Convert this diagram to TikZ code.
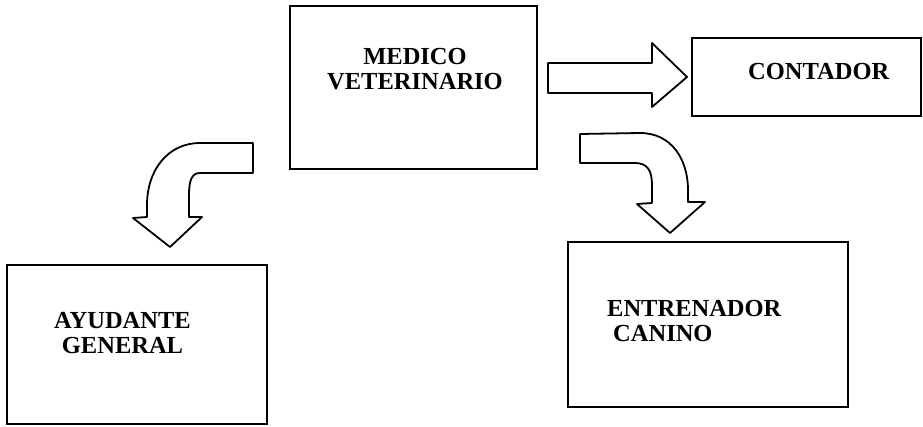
\documentclass[tikz,border=0pt]{standalone}
\usepackage{fontspec}
\setmainfont{Liberation Serif}
\usepackage{tikz}
\tikzset{
    node distance=2cm, % not used much here, boxes are set at coordinates
    }

\begin{document}
\begin{tikzpicture}[x=1pt,y=-1pt,
cajabox/.style={rectangle, draw=black, line width=1.8pt, inner sep=0pt},
rotulo/.style={inner sep=0pt, font=\fontsize{24.5pt}{25pt}\selectfont\bfseries},
flecha/.style={draw=black, line width=1.8pt, line join=round},
]
\useasboundingbox (0,0) rectangle (923,427);

\node[cajabox, minimum width=247pt, minimum height=163pt] (medico) at (413.5,87.5) {};
\node[cajabox, minimum width=229pt, minimum height=78pt] (contador) at (806.5,77) {};
\node[cajabox, minimum width=260pt, minimum height=159pt] (ayudante) at (137,344.5) {};
\node[cajabox, minimum width=280pt, minimum height=165pt] (entrenador) at (708,324.5) {};

\node[rotulo, align=center, anchor=north] (medicotxt) at (415,48) {MEDICO\\VETERINARIO};
\node[rotulo, anchor=north west] (contadortxt) at (748,63) {CONTADOR};
\node[rotulo, align=center, anchor=north] (ayudantetxt) at (122.5,312) {AYUDANTE\\GENERAL};
\node[rotulo, align=left, anchor=north west] (entrenadortxt) at (607,300) {ENTRENADOR\\\hspace*{6pt}CANINO};

% block arrows
\draw[flecha] (548,63) -- (652,63) -- (652,43) -- (687,77) -- (652,107) -- (652,93) -- (548,93) -- cycle;
\draw[flecha] (580,134) -- (640,133) .. controls (672,133) and (688,160) .. (688,190) -- (688,202) -- (705,202) -- (670,233) -- (637,204) -- (652,203) -- (652,185) .. controls (652,170) and (647,163) .. (635,163) -- (580,163) -- cycle;
\draw[flecha] (253,143) -- (200,143) .. controls (168,143) and (147,170) .. (147,205) -- (147,217) -- (133,218) -- (170,247) -- (202,217) -- (189,217) -- (189,195) .. controls (189,180) and (192,173) .. (200,173) -- (253,173) -- cycle;
\end{tikzpicture}
\end{document}
